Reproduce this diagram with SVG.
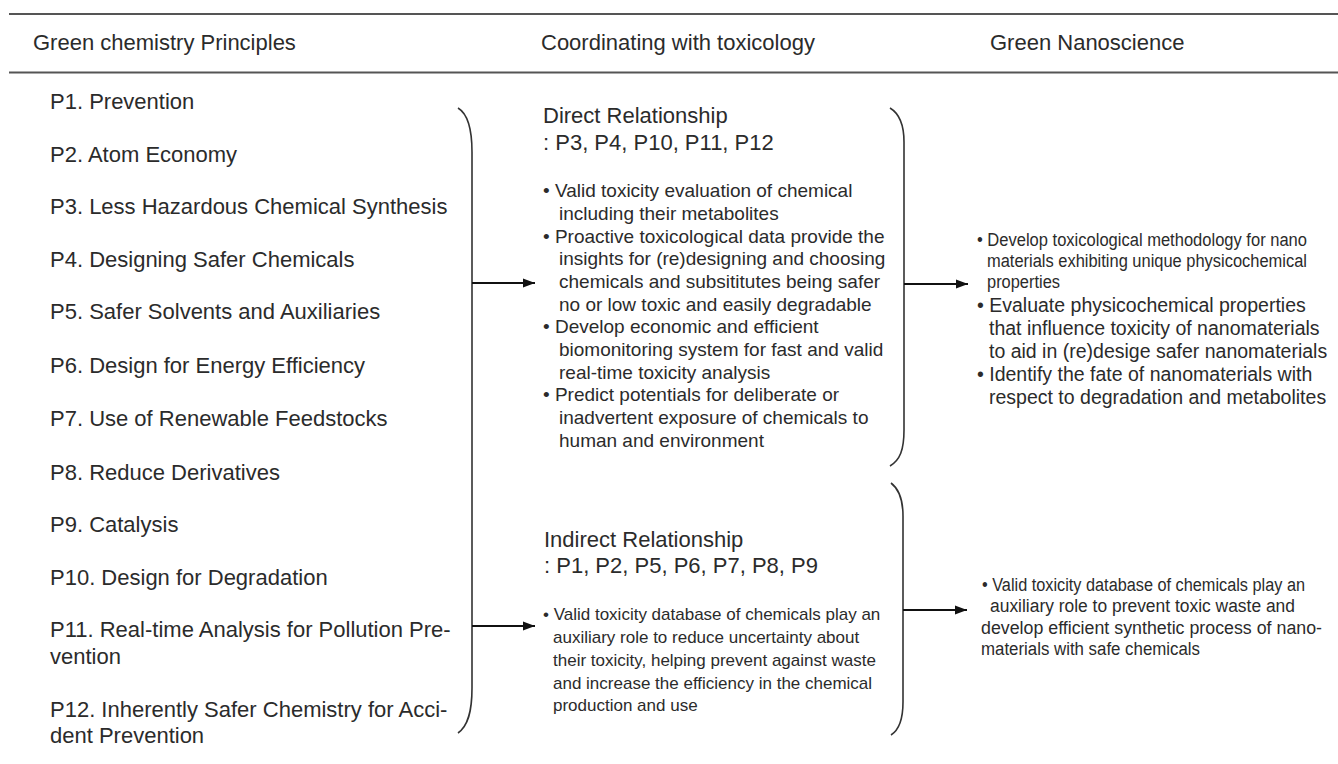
<svg xmlns="http://www.w3.org/2000/svg" width="1338" height="764" viewBox="0 0 1338 764">
<defs>
<style>
text{font-family:"Liberation Sans",Arial,sans-serif;fill:#2b2b2b}
.h{font-size:22px}
.p{font-size:22px}
.t{font-size:22px}
.d{font-size:19px}
.i{font-size:17px}
.r{font-size:19.5px}
.rs{font-size:18px}
.rule{stroke:#555;stroke-width:2;fill:none}
.brace{stroke:#333;stroke-width:1.6;fill:none}
.conn{stroke:#111;stroke-width:2;fill:none}
</style>
<marker id="ah" markerWidth="13" markerHeight="11" refX="12" refY="5.5" orient="auto" markerUnits="userSpaceOnUse">
<path d="M0,1 L12,5.5 L0,10 Z" fill="#111"/>
</marker>
</defs>
<rect width="1338" height="764" fill="#fff"/>

<g id="table-rules">
<line class="rule" x1="9" y1="14" x2="1338" y2="14"/>
<line class="rule" x1="9" y1="72.5" x2="1338" y2="72.5"/>
</g>

<g id="headers">
<text class="h" x="33" y="50">Green chemistry Principles</text>
<text class="h" x="541" y="50">Coordinating with toxicology</text>
<text class="h" x="990" y="50">Green Nanoscience</text>
</g>

<g id="principles">
<text class="p" x="50" y="109">P1. Prevention</text>
<text class="p" x="50" y="162">P2. Atom Economy</text>
<text class="p" x="50" y="214">P3. Less Hazardous Chemical Synthesis</text>
<text class="p" x="50" y="267">P4. Designing Safer Chemicals</text>
<text class="p" x="50" y="319">P5. Safer Solvents and Auxiliaries</text>
<text class="p" x="50" y="373">P6. Design for Energy Efficiency</text>
<text class="p" x="50" y="426">P7. Use of Renewable Feedstocks</text>
<text class="p" x="50" y="480">P8. Reduce Derivatives</text>
<text class="p" x="50" y="532">P9. Catalysis</text>
<text class="p" x="50" y="585">P10. Design for Degradation</text>
<text class="p" x="50" y="637">P11. Real-time Analysis for Pollution Pre-</text>
<text class="p" x="50" y="664">vention</text>
<text class="p" x="50" y="717">P12. Inherently Safer Chemistry for Acci-</text>
<text class="p" x="50" y="743">dent Prevention</text>
</g>

<g id="direct">
<text class="t" x="543" y="123">Direct Relationship</text>
<text class="t" x="543" y="150">: P3, P4, P10, P11, P12</text>
<text class="d" x="543" y="197">• Valid toxicity evaluation of chemical</text>
<text class="d" x="559" y="219.5">including their metabolites</text>
<text class="d" x="543" y="242.5">• Proactive toxicological data provide the</text>
<text class="d" x="559" y="265">insights for (re)designing and choosing</text>
<text class="d" x="559" y="288">chemicals and subsititutes being safer</text>
<text class="d" x="559" y="310.5">no or low toxic and easily degradable</text>
<text class="d" x="543" y="333">• Develop economic and efficient</text>
<text class="d" x="559" y="356">biomonitoring system for fast and valid</text>
<text class="d" x="559" y="378.5">real-time toxicity analysis</text>
<text class="d" x="543" y="401">• Predict potentials for deliberate or</text>
<text class="d" x="559" y="424">inadvertent exposure of chemicals to</text>
<text class="d" x="559" y="446.5">human and environment</text>
</g>

<g id="indirect">
<text class="t" x="544" y="547">Indirect Relationship</text>
<text class="t" x="544" y="573">: P1, P2, P5, P6, P7, P8, P9</text>
<text class="i" x="543" y="620">• Valid toxicity database of chemicals play an</text>
<text class="i" x="553" y="643">auxiliary role to reduce uncertainty about</text>
<text class="i" x="553" y="666">their toxicity, helping prevent against waste</text>
<text class="i" x="553" y="689">and increase the efficiency in the chemical</text>
<text class="i" x="553" y="711">production and use</text>
</g>

<g id="nano-direct">
<text class="rs" x="977" y="246" textLength="330" lengthAdjust="spacingAndGlyphs">• Develop toxicological methodology for nano</text>
<text class="rs" x="987" y="267" textLength="320" lengthAdjust="spacingAndGlyphs">materials exhibiting unique physicochemical</text>
<text class="rs" x="987" y="288" textLength="73" lengthAdjust="spacingAndGlyphs">properties</text>
<text class="r" x="977" y="312">• Evaluate physicochemical properties</text>
<text class="r" x="989" y="334.5">that influence toxicity of nanomaterials</text>
<text class="r" x="989" y="357.5">to aid in (re)desige safer nanomaterials</text>
<text class="r" x="977" y="380.5">• Identify the fate of nanomaterials with</text>
<text class="r" x="989" y="403.5">respect to degradation and metabolites</text>
</g>

<g id="nano-indirect">
<text class="rs" x="982" y="591" textLength="323" lengthAdjust="spacingAndGlyphs">• Valid toxicity database of chemicals play an</text>
<text class="rs" x="990" y="612" textLength="305" lengthAdjust="spacingAndGlyphs">auxiliary role to prevent toxic waste and</text>
<text class="rs" x="981" y="633.5" textLength="341" lengthAdjust="spacingAndGlyphs">develop efficient synthetic process of nano-</text>
<text class="rs" x="981" y="655" textLength="219" lengthAdjust="spacingAndGlyphs">materials with safe chemicals</text>
</g>

<g id="braces">
<path class="brace" d="M458,108 C468,114 472,130 472,152 L472,688 C472,712 468,726 458,733"/>
<path class="brace" d="M890,108 C900,114 904,126 904,142 L904,430 C904,450 900,460 890,466"/>
<path class="brace" d="M891,483 C899,489 903,500 903,516 L903,702 C903,720 899,730 891,735"/>
</g>

<g id="connectors">
<line class="conn" x1="472" y1="283" x2="535" y2="283" marker-end="url(#ah)"/>
<line class="conn" x1="472" y1="626" x2="535" y2="626" marker-end="url(#ah)"/>
<line class="conn" x1="904" y1="284" x2="968" y2="284" marker-end="url(#ah)"/>
<line class="conn" x1="903" y1="610" x2="967" y2="610" marker-end="url(#ah)"/>
</g>
</svg>
